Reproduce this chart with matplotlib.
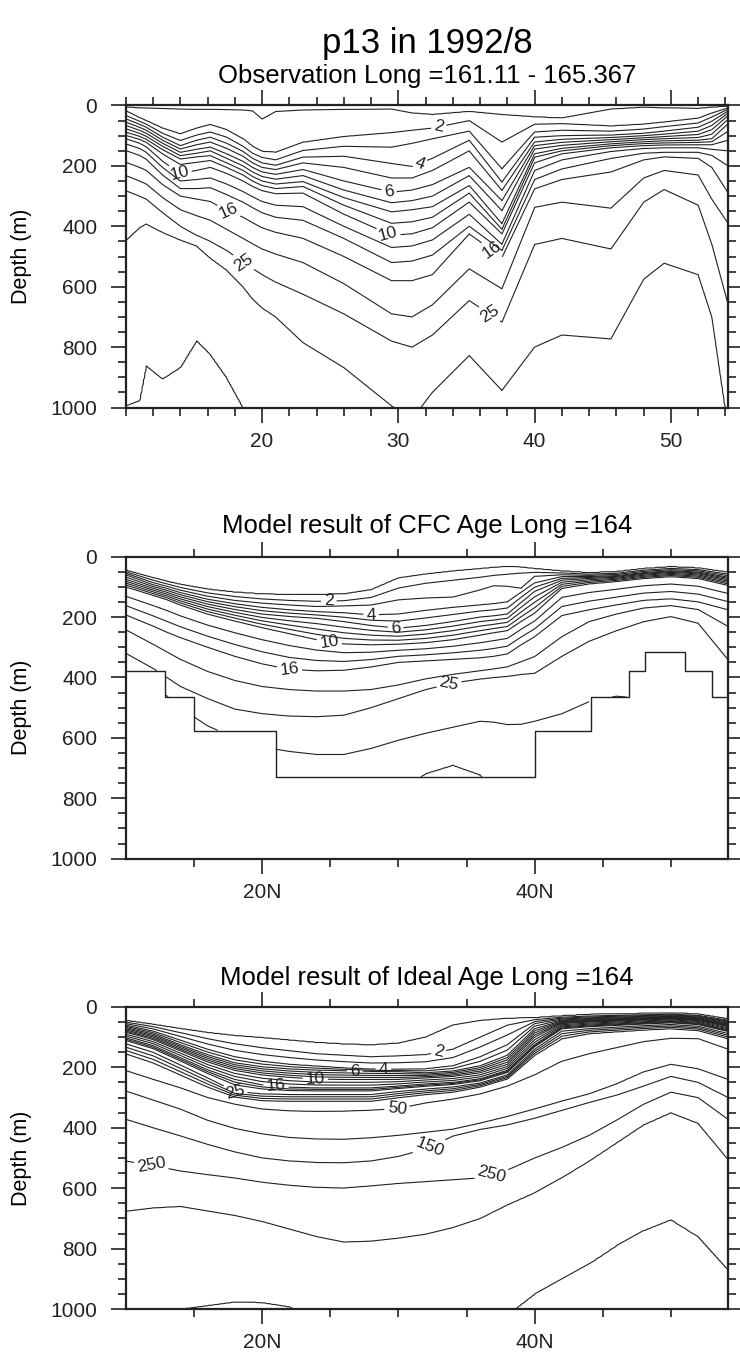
import numpy as np
import matplotlib
matplotlib.use("Agg")
import matplotlib.pyplot as plt
from matplotlib.ticker import MultipleLocator, FixedLocator

plt.rcParams["font.family"] = ["Liberation Sans", "DejaVu Sans"]

# ── Panel 1: observation, isoline depths (m) read at these latitudes ─────────
obs_lat = [10, 11, 11.5, 12.7, 14, 15.2, 16.2, 17.4, 18.6, 19.3, 20, 21, 23, 26,
           29.5, 31, 32.5, 35.2, 37.6, 40, 42, 45.6, 48, 49.5, 52, 53, 54.2]
obs_levels = [1, 2, 3, 4, 5, 6, 7, 8, 9, 10, 12, 14, 16, 20, 25, 35, 50]
obs_l1  = [6, 8, 9, 10, 12, 13, 13, 14, 15, 18, 45, 20, 15, 13, 12, 25, 30, 20, 30, 38, 42, 12, 6, 8, 10, 6, 3]
obs_l2  = [17, 40, 50, 75, 94, 75, 63, 80, 110, 135, 152, 155, 122, 103, 90, 82, 75, 50, 121, 62, 60, 68, 62, 55, 42, 25, 8]
obs_l3  = [33, 52, 62, 92, 116, 98, 88, 105, 135, 158, 172, 180, 149, 135, 138, 125, 110, 85, 210, 88, 82, 85, 78, 70, 58, 38, 12]
obs_l4  = [44, 62, 72, 105, 133, 115, 105, 125, 152, 175, 190, 198, 171, 168, 192, 202, 175, 115, 254, 105, 100, 98, 92, 85, 72, 52, 18]
obs_l5  = [55, 72, 82, 115, 144, 130, 121, 142, 168, 190, 205, 212, 190, 205, 240, 240, 215, 150, 281, 121, 112, 106, 100, 95, 85, 66, 25]
obs_l6  = [66, 82, 92, 125, 155, 145, 138, 160, 185, 205, 220, 228, 212, 250, 287, 280, 262, 205, 315, 133, 122, 113, 107, 103, 96, 80, 33]
obs_l7  = [77, 92, 102, 135, 166, 158, 150, 175, 200, 220, 235, 244, 232, 280, 322, 315, 300, 232, 348, 144, 132, 120, 113, 110, 106, 95, 45]
obs_l8  = [88, 102, 112, 146, 177, 170, 166, 190, 215, 235, 250, 260, 252, 305, 352, 345, 335, 265, 392, 160, 142, 127, 120, 117, 115, 110, 60]
obs_l9  = [99, 112, 122, 160, 195, 188, 182, 205, 230, 250, 265, 275, 268, 330, 390, 385, 370, 290, 410, 171, 150, 133, 126, 124, 122, 120, 85]
obs_l10 = [110, 125, 137, 185, 226, 215, 205, 225, 250, 268, 282, 292, 290, 360, 430, 425, 405, 320, 425, 190, 160, 140, 133, 131, 130, 130, 115]
obs_l12 = [127, 142, 155, 205, 250, 245, 240, 260, 285, 302, 318, 330, 335, 400, 470, 465, 445, 360, 460, 215, 180, 152, 142, 140, 140, 145, 150]
obs_l14 = [149, 165, 178, 230, 275, 275, 272, 295, 320, 338, 355, 370, 380, 440, 520, 515, 495, 400, 480, 245, 210, 175, 158, 155, 155, 165, 200]
obs_l16 = [188, 205, 215, 262, 300, 310, 318, 348, 370, 388, 405, 420, 440, 500, 580, 580, 560, 425, 502, 276, 245, 220, 180, 170, 175, 205, 290]
obs_l20 = [232, 250, 260, 305, 345, 365, 380, 410, 440, 458, 475, 492, 520, 590, 690, 700, 660, 541, 607, 337, 320, 340, 240, 215, 230, 310, 390]
obs_l25 = [282, 300, 310, 355, 400, 430, 450, 480, 519, 540, 560, 585, 625, 690, 780, 800, 760, 646, 717, 460, 440, 475, 320, 278, 330, 460, 660]
obs_l35 = [447, 405, 392, 420, 445, 465, 505, 545, 600, 640, 670, 700, 785, 868, 995, 1040, 950, 828, 944, 800, 760, 773, 575, 522, 560, 700, 1080]
obs_l50 = [994, 977, 861, 905, 867, 778, 823, 900, 999, 1100, 1100, 1100, 1100, 1100, 1100, 1100, 1100,
           1100, 1100, 1100, 1100, 1100, 1100, 1100, 1100, 1100, 1120]

# ── Panel 2: CFC age model ───────────────────────────────────────────────────
cfc_lat = [10, 12, 13, 14, 16, 18, 20, 22, 24, 26, 28, 30, 32, 34, 36, 37, 38, 39, 40,
           42, 44, 46, 48, 50, 52, 54.2]
cfc_anchor = [1, 2, 3, 4, 6, 10, 16, 20, 25, 35, 50]
cfc_l1  = [45, 70, 82, 92, 108, 118, 124, 126, 126, 124, 110, 71, 58, 48, 40, 36, 33, 35, 40, 48, 54, 50, 40, 34, 38, 52]
cfc_l2  = [50, 78, 90, 102, 120, 132, 140, 145, 148, 146, 135, 104, 88, 78, 68, 62, 58, 54, 52, 54, 58, 55, 45, 39, 43, 58]
cfc_l3  = [55, 86, 98, 111, 131, 145, 154, 160, 165, 163, 160, 143, 137, 134, 110, 96, 98, 105, 65, 60, 62, 59, 49, 43, 47, 63]
cfc_l4  = [60, 93, 105, 119, 141, 156, 168, 176, 182, 186, 193, 190, 178, 168, 160, 156, 150, 118, 87, 66, 66, 63, 53, 47, 51, 68]
cfc_l6  = [75, 105, 118, 133, 157, 175, 190, 198, 204, 215, 228, 237, 228, 215, 200, 196, 190, 152, 115, 78, 72, 68, 58, 52, 57, 76]
cfc_l10 = [100, 128, 142, 160, 190, 213, 235, 255, 275, 289, 292, 290, 285, 275, 260, 252, 245, 215, 187, 105, 90, 82, 72, 66, 72, 95]
cfc_l16 = [193, 230, 250, 268, 300, 330, 355, 373, 378, 376, 365, 350, 345, 340, 335, 330, 322, 292, 265, 195, 176, 160, 145, 140, 150, 176]
cfc_l20 = [242, 290, 315, 340, 380, 410, 430, 440, 445, 445, 440, 425, 405, 390, 378, 372, 365, 348, 331, 265, 215, 190, 170, 162, 175, 231]
cfc_l25 = [320, 370, 400, 430, 470, 505, 520, 528, 530, 525, 500, 470, 440, 418, 405, 400, 396, 390, 386, 330, 280, 245, 215, 198, 220, 342]
cfc_l35 = [420, 440, 460, 500, 560, 600, 630, 645, 655, 655, 635, 608, 585, 565, 545, 548, 556, 555, 545, 520, 480, 462, 470, 480, 500, 520]
cfc_l50 = [800, 800, 800, 800, 800, 800, 800, 800, 800, 800, 800, 780, 718, 690, 722, 770, 800, 800, 800,
           800, 800, 800, 800, 800, 800, 800]
cfc_levels = [1, 2, 3, 4, 5, 6, 7, 8, 9, 10, 12, 14, 16, 20, 25, 35, 50]

# model bottom (step edges in degrees N, depth of each step in m)
topo_edges = [10, 12.9, 15.0, 21.0, 40.0, 44.1, 46.9, 48.1, 51.0, 53.0, 54.2]
topo_depth = [379, 466, 577, 730, 577, 466, 379, 317, 379, 466]

# ── Panel 3: ideal age model ─────────────────────────────────────────────────
ide_lat = [10, 12, 14, 16, 18, 20, 22, 24, 26, 28, 30, 32, 34, 36, 38, 40, 42, 44, 46, 48, 50, 52, 54.2]
ide_anchor = [1, 2, 4, 6, 10, 16, 25, 40, 50, 100, 150, 250, 350, 450]
ide_l1   = [45, 58, 72, 85, 95, 102, 110, 118, 123, 126, 120, 100, 60, 45, 38, 36, 30, 25, 24, 22, 20, 24, 40]
ide_l2   = [50, 65, 85, 105, 122, 135, 145, 155, 160, 165, 162, 158, 140, 100, 60, 42, 34, 30, 28, 26, 24, 28, 44]
ide_l4   = [60, 80, 110, 140, 165, 180, 190, 196, 202, 206, 207, 205, 195, 165, 125, 55, 40, 36, 34, 31, 29, 33, 50]
ide_l6   = [68, 90, 125, 158, 185, 198, 205, 209, 211, 213, 214, 218, 212, 195, 160, 72, 46, 41, 39, 36, 33, 38, 56]
ide_l10  = [84, 108, 145, 182, 210, 225, 233, 239, 240, 240, 240, 235, 230, 218, 190, 100, 55, 50, 47, 43, 40, 45, 65]
ide_l16  = [102, 128, 168, 208, 240, 258, 266, 268, 268, 268, 262, 255, 250, 238, 210, 125, 66, 60, 56, 52, 48, 54, 76]
ide_l25  = [122, 150, 192, 235, 280, 288, 290, 290, 290, 290, 280, 272, 265, 252, 225, 140, 80, 72, 67, 62, 58, 64, 88]
ide_l40  = [155, 185, 225, 265, 298, 310, 312, 312, 312, 312, 300, 290, 282, 265, 238, 160, 105, 88, 82, 76, 72, 78, 105]
ide_l50  = [211, 240, 268, 300, 322, 338, 344, 346, 345, 342, 336, 318, 305, 288, 262, 225, 180, 155, 135, 115, 104, 105, 140]
ide_l100 = [278, 308, 338, 375, 402, 420, 432, 437, 438, 433, 425, 415, 405, 385, 363, 338, 312, 288, 255, 215, 190, 205, 240]
ide_l150 = [372, 400, 427, 455, 480, 500, 510, 515, 516, 510, 495, 470, 427, 405, 390, 368, 342, 316, 292, 262, 230, 250, 300]
ide_l250 = [510, 525, 543, 555, 566, 580, 590, 597, 599, 592, 584, 578, 572, 566, 540, 500, 465, 425, 375, 322, 282, 300, 372]
ide_l350 = [676, 665, 660, 675, 690, 710, 735, 760, 778, 775, 765, 752, 730, 700, 655, 615, 565, 510, 450, 390, 350, 385, 505]
ide_l450 = [1100, 1060, 1000, 988, 976, 978, 992, 1040, 1100, 1100, 1100, 1100, 1100, 1100, 1020, 950, 900,
            850, 790, 740, 704, 760, 870]
ide_levels = [1, 2, 3, 4, 5, 6, 7, 8, 9, 10, 12, 14, 16, 18, 20, 25, 30, 35, 40, 50,
              100, 150, 250, 350, 450]

# contour label positions (level, lat, depth)
obs_labels = [(2, 33.0, 80), (4, 31.7, 204), (6, 29.3, 287), (10, 29.2, 430), (10, 13.9, 226),
              (16, 36.7, 491), (16, 17.5, 355), (25, 36.7, 690), (25, 18.6, 522)]
cfc_labels = [(2, 24.9, 148), (4, 28.0, 193), (6, 29.8, 237), (10, 24.9, 289),
              (16, 22.0, 373), (25, 33.7, 420)]
ide_labels = [(2, 33.0, 156), (4, 28.9, 206), (6, 26.8, 211), (10, 23.9, 239), (16, 21.0, 268),
              (25, 18.0, 289), (50, 29.9, 336), (150, 32.3, 466), (250, 36.9, 566), (250, 11.9, 516)]

LAT = np.linspace(10, 54.2, 443)
DEP = np.linspace(0, 1000, 401)
LINE_C = "#222222"


def build_field(lats, anchors, lines, top_val, bot_val):
    """value(lat, depth) from isoline depths, linear in depth between isolines"""
    D = np.array([np.interp(LAT, lats, d) for d in lines])
    Z = np.empty((len(DEP), len(LAT)))
    vals = np.concatenate(([top_val], anchors, [bot_val]))
    for j in range(len(LAT)):
        dz = np.concatenate(([-50.0], D[:, j], [3000.0]))
        dz = np.maximum.accumulate(dz + np.arange(len(dz)) * 1e-6)
        Z[:, j] = np.interp(DEP, dz, vals)
    return Z


def draw_contours(ax, Z, levels, labels):
    lab_levels = sorted(set(l for l, _, _ in labels))
    plain = [l for l in levels if l not in lab_levels]
    ax.contour(LAT, DEP, Z, levels=plain, colors=LINE_C, linewidths=0.8)
    for lev in lab_levels:
        cs = ax.contour(LAT, DEP, Z, levels=[lev], colors=LINE_C, linewidths=0.8)
        pos = [(x, y) for l, x, y in labels if l == lev]
        ax.clabel(cs, manual=pos, inline=True, fmt="%g", fontsize=12.5, inline_spacing=3)


def style_axes(ax, north):
    ax.set_xlim(10, 54.2)
    ax.set_ylim(1000, 0)
    ax.yaxis.set_major_locator(MultipleLocator(200))
    ax.yaxis.set_minor_locator(MultipleLocator(50))
    if north:
        ax.xaxis.set_major_locator(FixedLocator([20, 40]))
        ax.xaxis.set_minor_locator(FixedLocator([15, 25, 30, 35, 45, 50]))
        ax.set_xticklabels(["20N", "40N"])
    else:
        ax.xaxis.set_major_locator(FixedLocator([20, 30, 40, 50]))
        ax.xaxis.set_minor_locator(MultipleLocator(2))
    ax.tick_params(which="both", direction="out", top=True, right=True,
                   labelsize=15, width=1.2, colors=LINE_C)
    ax.tick_params(axis="y", which="major", length=10.5, pad=10)
    ax.tick_params(axis="x", which="major", length=10.5, pad=7)
    ax.tick_params(which="minor", length=5.5)
    for s in ax.spines.values():
        s.set_linewidth(1.6)
        s.set_color(LINE_C)


fig = plt.figure(figsize=(7.4, 13.63), dpi=100)
W = 0.814
H = 0.2216
ax1 = fig.add_axes([0.170, 0.701, W, H])
ax2 = fig.add_axes([0.170, 0.370, W, H])
ax3 = fig.add_axes([0.170, 0.0396, W, H])

# (1) observation
Z1 = build_field(obs_lat, obs_levels,
                 [obs_l1, obs_l2, obs_l3, obs_l4, obs_l5, obs_l6, obs_l7, obs_l8, obs_l9, obs_l10,
                  obs_l12, obs_l14, obs_l16, obs_l20, obs_l25, obs_l35, obs_l50], 0.5, 60)
draw_contours(ax1, Z1, obs_levels, obs_labels)
style_axes(ax1, north=False)

# (2) CFC age model, masked below the model bottom
Z2 = build_field(cfc_lat, cfc_anchor,
                 [cfc_l1, cfc_l2, cfc_l3, cfc_l4, cfc_l6, cfc_l10, cfc_l16, cfc_l20, cfc_l25,
                  cfc_l35, cfc_l50], 0.5, 60)
idx = np.clip(np.searchsorted(topo_edges, LAT, side="right") - 1, 0, len(topo_depth) - 1)
bottom = np.array(topo_depth)[idx]
Z2 = np.ma.masked_where(DEP[:, None] > bottom[None, :], Z2)
draw_contours(ax2, Z2, cfc_levels, cfc_labels)
ax2.step(topo_edges, topo_depth + [topo_depth[-1]], where="post", color=LINE_C, lw=1.0)
style_axes(ax2, north=True)

# (3) ideal age model
Z3 = build_field(ide_lat, ide_anchor,
                 [ide_l1, ide_l2, ide_l4, ide_l6, ide_l10, ide_l16, ide_l25, ide_l40, ide_l50,
                  ide_l100, ide_l150, ide_l250, ide_l350, ide_l450], 0.5, 500)
draw_contours(ax3, Z3, ide_levels, ide_labels)
style_axes(ax3, north=True)

# titles and axis labels
fig.text(0.577, 1 - 53 / 1363, "p13 in 1992/8", ha="center", va="baseline", fontsize=25)
subs = [("Observation Long =161.11 - 165.367", 83),
        ("Model result of CFC Age Long =164", 533),
        ("Model result of Ideal Age Long =164", 985)]
for txt, yb in subs:
    fig.text(0.577, 1 - yb / 1363, txt, ha="center", va="baseline", fontsize=18.5)
for yc in [256, 707, 1158]:
    fig.text(22 / 740, 1 - yc / 1363, "Depth (m)", rotation=90, ha="center", va="center",
             fontsize=15.5)

fig.savefig("out.png", dpi=100)
